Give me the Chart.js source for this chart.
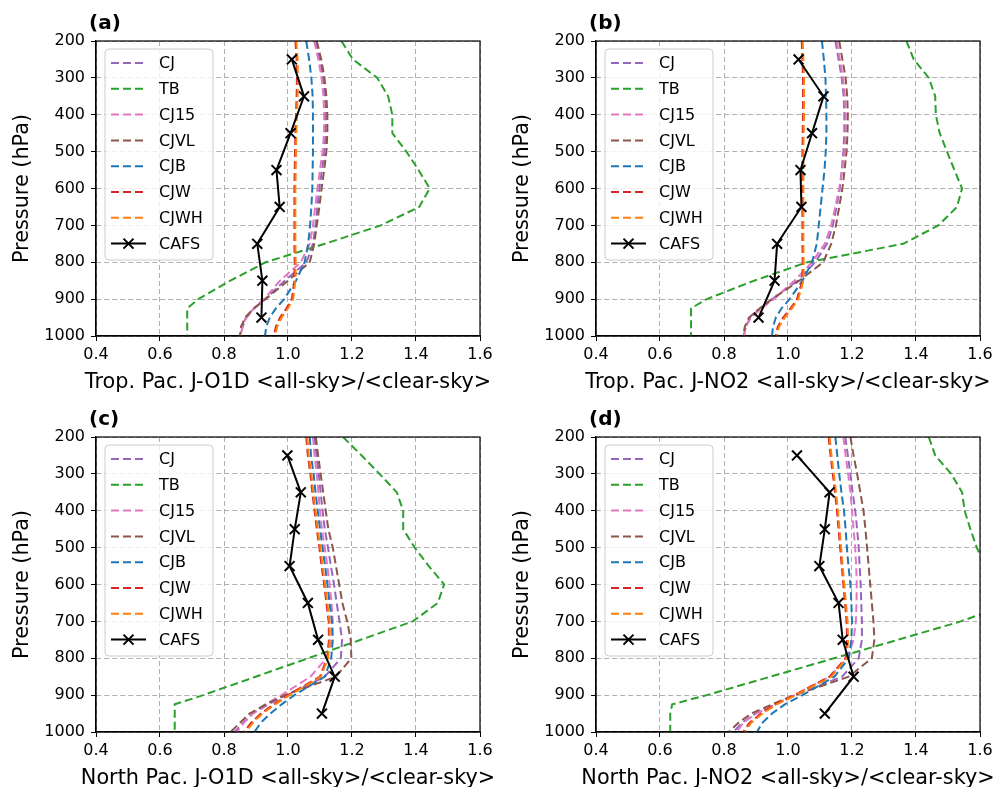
<!DOCTYPE html>
<html>
<head>
<meta charset="utf-8">
<script src="https://cdn.jsdelivr.net/npm/chart.js@4.4.1/dist/chart.umd.min.js"></script>
<style>
  html, body { margin: 0; padding: 0; background: #fff; overflow: hidden; }
  #fig { position: relative; width: 993px; height: 787px; }
  #fig canvas { position: absolute; }
</style>
</head>
<body>
<div id="fig">
  <canvas id="pa" width="500" height="395" style="left:0;top:0"></canvas>
  <canvas id="pb" width="500" height="395" style="left:500px;top:0"></canvas>
  <canvas id="pc" width="500" height="395" style="left:0;top:396px"></canvas>
  <canvas id="pd" width="500" height="395" style="left:500px;top:396px"></canvas>
</div>
<script>
// pressure levels (hPa) shared by the model profiles
const levels     = [200, 250, 300, 350, 400, 450, 500, 550, 600, 650, 700, 750, 800, 850, 900, 925, 950, 975, 1000];
// CAFS observation levels
const cafsLevels = [250, 350, 450, 550, 650, 750, 850, 950];
const xTicks = [0.4, 0.6, 0.8, 1.0, 1.2, 1.4, 1.6];
const yTicks = [200, 300, 400, 500, 600, 700, 800, 900, 1000];

const names  = ['CJ', 'TB', 'CJ15', 'CJVL', 'CJB', 'CJW', 'CJWH'];
const colors = ['#9467bd', '#2ca02c', '#e377c2', '#8c564b', '#1f77b4', '#d62728', '#ff7f0e'];

// ---- (a) Trop. Pac. J-O1D
const aCJ   = [1.087, 1.100, 1.110, 1.116, 1.118, 1.118, 1.114, 1.106, 1.098, 1.092, 1.086, 1.078, 1.058, 0.990, 0.928, 0.895, 0.870, 0.858, 0.853];
const aTB   = [1.167, 1.203, 1.279, 1.313, 1.326, 1.326, 1.370, 1.408, 1.443, 1.410, 1.290, 1.115, 0.930, 0.820, 0.720, 0.685, 0.685, 0.685, 0.685];
const aCJ15 = [1.082, 1.095, 1.105, 1.111, 1.113, 1.113, 1.108, 1.100, 1.092, 1.085, 1.078, 1.068, 1.040, 0.975, 0.925, 0.893, 0.868, 0.857, 0.852];
const aCJVL = [1.090, 1.104, 1.114, 1.120, 1.123, 1.123, 1.120, 1.113, 1.105, 1.098, 1.090, 1.082, 1.068, 1.000, 0.930, 0.893, 0.866, 0.853, 0.850];
const aCJB  = [1.057, 1.066, 1.073, 1.077, 1.078, 1.078, 1.078, 1.077, 1.076, 1.073, 1.069, 1.063, 1.052, 1.025, 0.988, 0.962, 0.943, 0.932, 0.928];
const aCJW  = [1.023, 1.027, 1.028, 1.027, 1.025, 1.023, 1.022, 1.021, 1.020, 1.020, 1.020, 1.020, 1.021, 1.020, 1.012, 0.995, 0.975, 0.962, 0.956];
const aCJWH = [1.026, 1.030, 1.031, 1.030, 1.028, 1.026, 1.025, 1.024, 1.023, 1.023, 1.023, 1.023, 1.024, 1.023, 1.016, 1.000, 0.980, 0.966, 0.960];
const aCAFS = [1.012, 1.050, 1.008, 0.964, 0.974, 0.904, 0.920, 0.917];

// ---- (b) Trop. Pac. J-NO2
const bCJ   = [1.148, 1.158, 1.168, 1.174, 1.176, 1.176, 1.173, 1.168, 1.162, 1.152, 1.140, 1.122, 1.085, 1.030, 0.950, 0.915, 0.882, 0.868, 0.862];
const bTB   = [1.370, 1.393, 1.440, 1.460, 1.462, 1.474, 1.497, 1.520, 1.544, 1.528, 1.470, 1.360, 1.060, 0.894, 0.746, 0.697, 0.697, 0.697, 0.697];
const bCJ15 = [1.152, 1.162, 1.172, 1.178, 1.180, 1.180, 1.177, 1.170, 1.160, 1.148, 1.135, 1.115, 1.075, 1.020, 0.955, 0.918, 0.884, 0.868, 0.862];
const bCJVL = [1.160, 1.170, 1.180, 1.185, 1.187, 1.186, 1.183, 1.177, 1.170, 1.160, 1.150, 1.135, 1.110, 1.035, 0.950, 0.912, 0.878, 0.865, 0.860];
const bCJB  = [1.106, 1.112, 1.117, 1.119, 1.120, 1.120, 1.118, 1.114, 1.108, 1.102, 1.096, 1.090, 1.075, 1.045, 1.005, 0.980, 0.962, 0.953, 0.950];
const bCJW  = [1.043, 1.045, 1.047, 1.047, 1.047, 1.046, 1.045, 1.045, 1.045, 1.045, 1.045, 1.045, 1.046, 1.045, 1.028, 1.008, 0.985, 0.968, 0.962];
const bCJWH = [1.046, 1.048, 1.050, 1.050, 1.050, 1.049, 1.048, 1.048, 1.048, 1.048, 1.048, 1.048, 1.049, 1.048, 1.032, 1.012, 0.990, 0.972, 0.965];
const bCAFS = [1.033, 1.111, 1.075, 1.039, 1.042, 0.966, 0.958, 0.908];

// ---- (c) North Pac. J-O1D
const cCJ   = [1.083, 1.089, 1.096, 1.102, 1.108, 1.115, 1.125, 1.134, 1.144, 1.152, 1.161, 1.169, 1.165, 1.115, 0.995, 0.938, 0.890, 0.860, 0.833];
const cTB   = [1.172, 1.230, 1.286, 1.340, 1.360, 1.360, 1.396, 1.440, 1.488, 1.468, 1.390, 1.227, 1.063, 0.899, 0.735, 0.646, 0.646, 0.646, 0.646];
const cCJ15 = [1.078, 1.083, 1.090, 1.095, 1.100, 1.106, 1.115, 1.123, 1.130, 1.136, 1.140, 1.138, 1.120, 1.070, 0.980, 0.930, 0.890, 0.862, 0.840];
const cCJVL = [1.087, 1.094, 1.102, 1.110, 1.118, 1.126, 1.140, 1.150, 1.160, 1.170, 1.185, 1.196, 1.198, 1.150, 0.990, 0.930, 0.880, 0.850, 0.820];
const cCJB  = [1.068, 1.072, 1.080, 1.086, 1.093, 1.100, 1.108, 1.116, 1.123, 1.130, 1.137, 1.140, 1.135, 1.115, 1.020, 0.980, 0.945, 0.915, 0.895];
const cCJW  = [1.057, 1.062, 1.070, 1.076, 1.083, 1.090, 1.098, 1.105, 1.113, 1.120, 1.127, 1.128, 1.122, 1.100, 1.000, 0.955, 0.915, 0.885, 0.862];
const cCJWH = [1.060, 1.065, 1.073, 1.079, 1.086, 1.093, 1.101, 1.108, 1.116, 1.123, 1.130, 1.131, 1.125, 1.103, 1.005, 0.960, 0.920, 0.890, 0.868];
const cCAFS = [0.998, 1.040, 1.021, 1.005, 1.062, 1.094, 1.146, 1.106];

// ---- (d) North Pac. J-NO2
const dCJ   = [1.179, 1.187, 1.195, 1.202, 1.210, 1.216, 1.221, 1.224, 1.227, 1.229, 1.231, 1.231, 1.221, 1.169, 1.023, 0.960, 0.898, 0.856, 0.830];
const dTB   = [1.440, 1.460, 1.510, 1.544, 1.552, 1.570, 1.590, 1.615, 1.660, 1.700, 1.540, 1.343, 1.144, 0.945, 0.746, 0.638, 0.632, 0.632, 0.632];
const dCJ15 = [1.173, 1.180, 1.188, 1.195, 1.200, 1.205, 1.210, 1.213, 1.215, 1.214, 1.212, 1.205, 1.185, 1.130, 1.020, 0.960, 0.900, 0.860, 0.840];
const dCJVL = [1.195, 1.205, 1.216, 1.226, 1.236, 1.242, 1.247, 1.252, 1.257, 1.262, 1.267, 1.270, 1.262, 1.190, 1.020, 0.950, 0.885, 0.845, 0.815];
const dCJB  = [1.148, 1.154, 1.160, 1.167, 1.175, 1.180, 1.184, 1.189, 1.195, 1.198, 1.200, 1.198, 1.190, 1.145, 1.045, 0.990, 0.950, 0.920, 0.903];
const dCJW  = [1.127, 1.133, 1.140, 1.147, 1.153, 1.158, 1.163, 1.168, 1.173, 1.178, 1.183, 1.185, 1.180, 1.130, 1.020, 0.960, 0.915, 0.880, 0.860];
const dCJWH = [1.130, 1.136, 1.143, 1.150, 1.156, 1.161, 1.166, 1.171, 1.176, 1.181, 1.186, 1.188, 1.183, 1.135, 1.025, 0.965, 0.920, 0.885, 0.865];
const dCAFS = [1.028, 1.130, 1.115, 1.098, 1.158, 1.171, 1.205, 1.115];

const panels = [
  { id: 'pa', tag: '(a)', xlabel: 'Trop. Pac. J-O1D <all-sky>/<clear-sky>',  model: [aCJ, aTB, aCJ15, aCJVL, aCJB, aCJW, aCJWH], cafs: aCAFS },
  { id: 'pb', tag: '(b)', xlabel: 'Trop. Pac. J-NO2 <all-sky>/<clear-sky>',  model: [bCJ, bTB, bCJ15, bCJVL, bCJB, bCJW, bCJWH], cafs: bCAFS },
  { id: 'pc', tag: '(c)', xlabel: 'North Pac. J-O1D <all-sky>/<clear-sky>', model: [cCJ, cTB, cCJ15, cCJVL, cCJB, cCJW, cCJWH], cafs: cCAFS },
  { id: 'pd', tag: '(d)', xlabel: 'North Pac. J-NO2 <all-sky>/<clear-sky>', model: [dCJ, dTB, dCJ15, dCJVL, dCJB, dCJW, dCJWH], cafs: dCAFS },
];

Chart.defaults.font.family = '"DejaVu Sans", sans-serif';
Chart.defaults.color = '#000';

const DASH = [8, 4];

// axes box, in-axes legend, x label (wider than the axes, so not the scale title) and panel tag
const framePlugin = {
  id: 'frame',
  afterDatasetsDraw(chart, args, opts) {
    const { ctx, chartArea: ca } = chart;
    ctx.save();
    ctx.strokeStyle = '#000';
    ctx.lineWidth = 1.2;
    ctx.setLineDash([]);
    ctx.strokeRect(ca.left, ca.top, ca.right - ca.left, ca.bottom - ca.top);

    // legend box
    const bx = ca.left + 9, by = ca.top + 8, bw = 108, bh = 211;
    ctx.beginPath();
    ctx.roundRect(bx, by, bw, bh, 4);
    ctx.fillStyle = 'rgba(255,255,255,0.8)';
    ctx.fill();
    ctx.strokeStyle = '#cccccc';
    ctx.lineWidth = 1;
    ctx.stroke();

    ctx.font = '16px "DejaVu Sans"';
    ctx.textBaseline = 'middle';
    chart.data.datasets.forEach((ds, i) => {
      const y = by + 14 + i * 25.8;
      const x0 = ca.left + 15, x1 = ca.left + 50;
      ctx.strokeStyle = ds.borderColor;
      ctx.lineWidth = 2;
      ctx.setLineDash(ds.borderDash || []);
      ctx.beginPath();
      ctx.moveTo(x0, y);
      ctx.lineTo(x1, y);
      ctx.stroke();
      ctx.setLineDash([]);
      if (ds.pointStyle === 'crossRot') {
        const xm = (x0 + x1) / 2, r = 5;
        ctx.beginPath();
        ctx.moveTo(xm - r, y - r); ctx.lineTo(xm + r, y + r);
        ctx.moveTo(xm - r, y + r); ctx.lineTo(xm + r, y - r);
        ctx.stroke();
      }
      ctx.fillStyle = '#000';
      ctx.fillText(ds.label, ca.left + 63, y + 1);
    });

    // x axis label
    ctx.font = '20.8px "DejaVu Sans"';
    ctx.textAlign = 'center';
    ctx.textBaseline = 'alphabetic';
    ctx.fillText(opts.xlabel, (ca.left + ca.right) / 2, ca.bottom + 52);

    ctx.font = 'bold 20px "DejaVu Sans"';
    ctx.textAlign = 'left';
    ctx.fillText(opts.tag, 89, 29);
    ctx.restore();
  }
};

function makePanel(p) {
  const datasets = names.map((name, i) => ({
    label: name,
    data: levels.map((lev, k) => ({ x: p.model[i][k], y: lev })),
    borderColor: colors[i],
    borderWidth: 2,
    borderDash: DASH,
    pointRadius: 0,
    showLine: true,
    order: 10 - i,
  }));
  datasets.push({
    label: 'CAFS',
    data: cafsLevels.map((lev, k) => ({ x: p.cafs[k], y: lev })),
    borderColor: '#000',
    borderWidth: 2,
    pointStyle: 'crossRot',
    pointRadius: 7,
    pointBorderWidth: 2,
    pointBorderColor: '#000',
    showLine: true,
    order: 1,
  });

  new Chart(document.getElementById(p.id), {
    type: 'scatter',
    data: { datasets },
    plugins: [framePlugin],
    options: {
      responsive: false,
      animation: false,
      devicePixelRatio: 1,
      layout: { padding: { top: 41, right: 20, bottom: 0, left: 0 } },
      plugins: {
        legend: { display: false },
        tooltip: { enabled: false },
        frame: { tag: p.tag, xlabel: p.xlabel },
      },
      scales: {
        x: {
          type: 'linear', min: xTicks[0], max: xTicks[xTicks.length - 1],
          afterBuildTicks: s => { s.ticks = xTicks.map(v => ({ value: v })); },
          ticks: { callback: v => v.toFixed(1), font: { size: 16 }, color: '#000', padding: 4, maxRotation: 0 },
          grid: { color: '#b0b0b0', lineWidth: 1, tickColor: '#000', tickLength: 5, tickBorderDash: [] },
          border: { display: true, color: '#000', width: 1.2, dash: [5, 3] },
          afterFit: s => { s.height = 59; s.paddingLeft = 0; s.paddingRight = 0; },
        },
        y: {
          type: 'linear', reverse: true, min: yTicks[0], max: yTicks[yTicks.length - 1],
          afterBuildTicks: s => { s.ticks = yTicks.map(v => ({ value: v })); },
          ticks: { callback: v => String(v), font: { size: 16 }, color: '#000', padding: 6 },
          grid: { color: '#b0b0b0', lineWidth: 1, tickColor: '#000', tickLength: 5, tickBorderDash: [] },
          border: { display: true, color: '#000', width: 1.2, dash: [5, 3] },
          title: { display: true, text: 'Pressure (hPa)', color: '#000', font: { size: 20.8 }, padding: { top: 10, bottom: 0 } },
          afterFit: s => { s.width = 96; s.paddingTop = 0; s.paddingBottom = 0; },
        },
      },
    },
  });
}

panels.forEach(makePanel);
</script>
</body>
</html>
